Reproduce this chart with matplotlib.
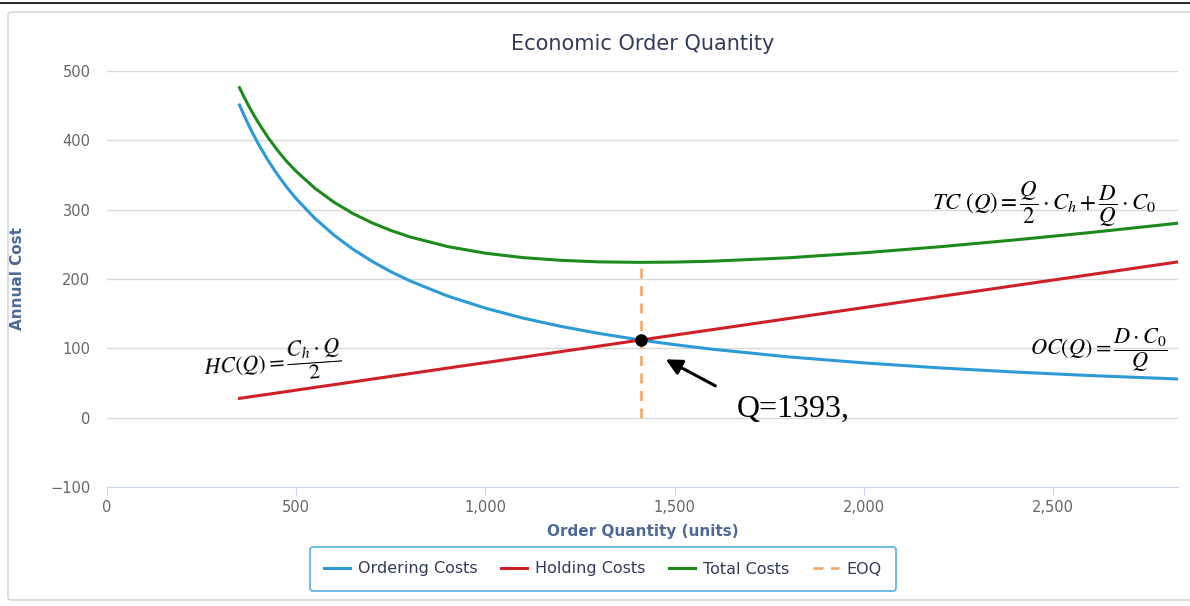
import matplotlib.pyplot as plt
from matplotlib.patches import FancyBboxPatch
from matplotlib.lines import Line2D
from matplotlib.ticker import FuncFormatter

# values
order_qty = [350, 360, 375, 390, 400, 425, 450, 475, 500, 550, 600, 650, 700, 750, 800,
             900, 1000, 1100, 1200, 1300, 1410, 1500, 1600, 1800, 2000, 2200, 2400, 2600, 2830]
ordering_costs = [451, 438.6, 421, 404.9, 394.8, 371.5, 350.9, 332.4, 315.8, 287.1, 263.2,
                  242.9, 225.6, 210.5, 197.4, 175.4, 157.9, 143.5, 131.6, 121.5, 112, 105.3,
                  98.7, 87.7, 79, 71.8, 65.8, 60.7, 55.8]
holding_costs = [27.8, 28.6, 29.8, 31.0, 31.8, 33.7, 35.7, 37.7, 39.7, 43.7, 47.6, 51.6, 55.6,
                 59.6, 63.5, 71.5, 79.4, 87.3, 95.3, 103.2, 112, 119.1, 127, 142.9, 158.8,
                 174.7, 190.6, 206.4, 224.7]
total_costs = [476, 465, 449, 434.5, 425.5, 404.5, 386, 369.5, 355.2, 330.6, 310.6, 294.4,
               281.1, 270, 260.8, 246.8, 237.2, 230.8, 226.9, 224.7, 224, 224.4, 225.7, 230.6,
               237.8, 246.5, 256.4, 267.1, 280.5]
eoq_q = 1410
eoq_cost = 112
eoq_total = 224
eoq_label = 'Q=1393,'

c_blue = '#2c9ad6'
c_red = '#cf2027'
c_green = '#1d8a1d'
c_orange = '#f7a35c'
c_label = '#4d6a96'

plt.rcParams['mathtext.fontset'] = 'stix'

fig = plt.figure(figsize=(11.9, 6.06), dpi=100)

# outer frame like the screenshot
fig.add_artist(Line2D([0, 1], [1 - 3 / 606, 1 - 3 / 606], color='black', lw=1.2))
fig.add_artist(FancyBboxPatch((8 / 1190, 6 / 606), 1.2, 1 - 18 / 606,
                              boxstyle='round,pad=0,rounding_size=0.004',
                              transform=fig.transFigure, fc='none', ec='#d0d0d0', lw=1))

ax = fig.add_axes([107 / 1190, 119 / 606, 1071 / 1190, 416 / 606])

ax.plot(order_qty, ordering_costs, color=c_blue, lw=2.2, label='Ordering Costs')
ax.plot(order_qty, holding_costs, color=c_red, lw=2.2, label='Holding Costs')
ax.plot(order_qty, total_costs, color=c_green, lw=2.2, label='Total Costs')
ax.plot([eoq_q, eoq_q], [0, eoq_total], color=c_orange, lw=1.8, ls=(0, (4, 3)), label='EOQ')
ax.plot([eoq_q], [eoq_cost], 'o', color='black', ms=8, zorder=5)

ax.set_xlim(0, 2830)
ax.set_ylim(-100, 500)
ax.set_yticks(range(-100, 501, 100))
ax.set_xticks(range(0, 2501, 500))
ax.xaxis.set_major_formatter(FuncFormatter(lambda v, p: f'{int(v):,}'))

ax.grid(axis='y', color='#d8d8d8', lw=1)
ax.set_axisbelow(True)
for s in ['top', 'right', 'left']:
    ax.spines[s].set_visible(False)
ax.spines['bottom'].set_color('#ccd6eb')
ax.tick_params(axis='y', length=0, labelsize=10.5, labelcolor='#666666', pad=12)
ax.tick_params(axis='x', length=6, color='#ccd6eb', labelsize=10.5, labelcolor='#666666')

ax.set_xlabel('Order Quantity (units)', fontsize=11, fontweight='bold', color=c_label, labelpad=6)
ax.set_ylabel('Annual Cost', fontsize=11, fontweight='bold', color=c_label, labelpad=18)
ax.set_title('Economic Order Quantity', fontsize=15, color='#333b5a', pad=15)

# formula annotations
ax.text(250, 80, r'$HC(Q) = \dfrac{C_h \cdot Q}{2}$', fontsize=16, rotation=4,
        ha='left', va='center')
ax.text(2180, 308, r'$TC\ (Q) = \dfrac{Q}{2} \cdot C_h + \dfrac{D}{Q} \cdot C_0$', fontsize=16.5,
        ha='left', va='center')
ax.text(2440, 98, r'$OC(Q) = \dfrac{D \cdot C_0}{Q}$', fontsize=16, ha='left', va='center')

ax.annotate('', xy=(1470, 86), xytext=(1614, 44),
            arrowprops=dict(arrowstyle='-|>', color='black', lw=2.2, mutation_scale=24))
ax.text(1665, 12, eoq_label, fontsize=23, family='Liberation Serif', ha='left', va='center')

leg = fig.legend(*ax.get_legend_handles_labels(), loc='center',
                 bbox_to_anchor=(603 / 1190, 1 - 569 / 606), ncol=4, frameon=True,
                 fontsize=11.5, handlelength=1.6, columnspacing=1.5, handletextpad=0.5,
                 fancybox=True, borderpad=0.9)
leg.get_frame().set_edgecolor('#3ea3dc')
leg.get_frame().set_linewidth(1.3)
for t in leg.get_texts():
    t.set_color('#333b5a')

fig.savefig('out.png', dpi=100)
